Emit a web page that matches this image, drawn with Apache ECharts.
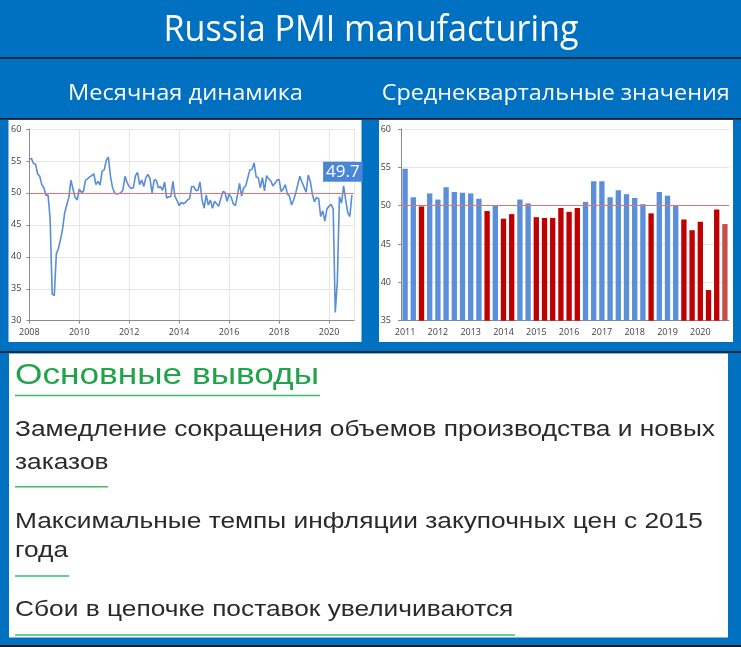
<!DOCTYPE html>
<html>
<head>
<meta charset="utf-8">
<script src="https://cdn.jsdelivr.net/npm/echarts@6/dist/echarts.min.js"></script>
<style>
html,body{margin:0;padding:0;background:#0070C0;}
#chart{width:741px;height:647px;}
</style>
</head>
<body>
<div id="chart"></div>
<script>
// ---------- texts ----------
const pageTitle = 'Russia PMI manufacturing';
const leftTitle = 'Месячная динамика';
const rightTitle = 'Среднеквартальные значения';
const conclusionsTitle = 'Основные выводы';
const conclusionLines = [
  'Замедление сокращения объемов производства и новых',
  'заказов',
  'Максимальные темпы инфляции закупочных цен с 2015',
  'года',
  'Сбои в цепочке поставок увеличиваются'
];

// ---------- monthly PMI, Jan 2008 .. Dec 2020 ----------
const monthYears = [2008, 2009, 2010, 2011, 2012, 2013, 2014, 2015, 2016, 2017, 2018, 2019, 2020];
const monthlyPMI = [
  55.3, 55.4, 54.6, 54.5, 53.0, 52.6, 51.3, 50.8, 49.6, 49.7, 46.0, 34.2, // 2008
  33.9, 40.5, 41.3, 42.7, 44.4, 46.9, 48.1, 49.3, 52.0, 50.6, 49.3, 48.9, // 2009
  50.6, 50.1, 50.2, 52.0, 52.2, 52.5, 52.7, 53.0, 51.3, 51.8, 51.2, 53.4, // 2010
  53.6, 55.1, 55.6, 52.6, 50.8, 50.0, 49.8, 49.9, 50.0, 50.5, 52.6, 51.6, // 2011
  51.0, 50.7, 50.8, 52.7, 53.2, 51.3, 52.0, 51.0, 52.4, 52.9, 52.2, 50.0, // 2012
  52.0, 52.0, 50.8, 51.0, 50.4, 51.7, 49.2, 49.4, 49.4, 51.8, 49.4, 48.8, // 2013
  48.0, 48.5, 48.3, 48.5, 48.9, 49.1, 51.0, 51.0, 50.4, 50.4, 51.7, 48.9, // 2014
  47.6, 49.7, 48.1, 48.9, 47.6, 48.7, 48.3, 47.9, 49.1, 50.2, 50.1, 48.7, // 2015
  49.8, 49.3, 48.3, 48.0, 49.6, 51.5, 49.5, 50.8, 51.1, 52.4, 53.6, 53.7, // 2016
  54.7, 52.5, 52.4, 50.8, 52.4, 50.3, 52.7, 52.2, 51.9, 51.1, 51.5, 52.0, // 2017
  52.1, 50.2, 50.6, 51.3, 49.8, 49.5, 48.1, 48.9, 50.0, 51.3, 52.6, 51.7, // 2018
  50.9, 50.1, 52.8, 51.8, 49.8, 48.6, 49.3, 49.1, 46.3, 47.2, 45.6, 47.5, // 2019
  47.9, 48.2, 47.5, 31.3, 36.2, 49.4, 48.4, 51.1, 48.9, 46.9, 46.3, 49.7  // 2020
];
const lineXTickYears = [2008, 2010, 2012, 2014, 2016, 2018, 2020];
const lineYTicks = [30, 35, 40, 45, 50, 55, 60];

// ---------- quarterly averages, 2011 Q1 .. 2020 Q4 ----------
const quarterYears = [2011, 2012, 2013, 2014, 2015, 2016, 2017, 2018, 2019, 2020];
const quarterlyPMI = [
  54.8, 51.1, 49.9, 51.6,   // 2011
  50.8, 52.4, 51.8, 51.7,   // 2012
  51.6, 50.9, 49.3, 50.0,   // 2013
  48.3, 48.9, 50.8, 50.3,   // 2014
  48.5, 48.4, 48.4, 49.7,   // 2015
  49.2, 49.7, 50.5, 53.2,   // 2016
  53.2, 51.1, 52.0, 51.5,   // 2017
  51.0, 50.2, 49.0, 51.8,   // 2018
  51.3, 50.1, 48.2, 46.8,   // 2019
  47.9, 39.0, 49.5, 47.6    // 2020
];
const barYTicks = [35, 40, 45, 50, 55, 60];
const threshold = 50;

// ---------- build categories ----------
const monthCats = [];
monthYears.forEach(y => { for (let m = 1; m <= 12; m++) monthCats.push(y + '-' + (m < 10 ? '0' + m : m)); });
monthCats.push((monthYears[monthYears.length - 1] + 1) + '-01'); // axis end
const quarterCats = [];
quarterYears.forEach(y => { for (let q = 1; q <= 4; q++) quarterCats.push(y + ' Q' + q); });

const isYearTick = (idx, val) => val.slice(5) === '01' && lineXTickYears.indexOf(+val.slice(0, 4)) >= 0;
const isSplit = (idx, val) => isYearTick(idx, val) || idx === monthCats.length - 1;

// ---------- colours ----------
const BG = '#0070C0';
const LINE_BLUE = '#5A8DD8';
const BAR_BLUE = '#5B8FD9';
const BAR_RED = '#C00000';
const BAR_LAST = '#C0504D';
const REF_RED = '#E57373';
const GRID = '#E6E6E6';
const AXIS = '#8C8C8C';
const TICK_TXT = '#404040';
const GREEN_TXT = '#20A34A';
const GREEN_LINE = '#3DBB6E';
const DARK = '#101820';

// ---------- text fitting ----------
const mctx = document.createElement('canvas').getContext('2d');
function fit(text, font, width) { mctx.font = font; return width / mctx.measureText(text).width; }

const titleFont = '36px "Open Sans"';
const subFont = '22px "Open Sans"';
const headFont = '30px "Liberation Sans"';
const bodyFont = '22px "Liberation Sans"';
const bodyScale = fit(conclusionLines[0], bodyFont, 700);

function txt(text, x, y, font, fill, align, scale) {
  return {
    type: 'text', x: x, y: y, scaleX: scale, z: 10,
    style: { text: text, font: font, fill: fill, textAlign: align, align: align,
             textVerticalAlign: 'middle', verticalAlign: 'middle' }
  };
}
function hline(x1, x2, y, color, w) {
  return { type: 'line', z: 5, shape: { x1: x1, y1: y, x2: x2, y2: y }, style: { stroke: color, lineWidth: w } };
}
function rect(x, y, w, h, fill) {
  return { type: 'rect', z: -1, shape: { x: x, y: y, width: w, height: h }, style: { fill: fill } };
}

const graphics = [
  rect(8.5, 120, 353, 222, '#ffffff'),
  rect(379, 120, 354, 222, '#ffffff'),
  rect(9, 353.5, 719, 284, '#ffffff'),
  hline(0, 741, 58, DARK, 1.5),
  hline(0, 741, 118.8, DARK, 1.5),
  hline(0, 741, 352, DARK, 1.5),
  hline(0, 741, 646, DARK, 2),
  txt(pageTitle, 371, 31, titleFont, '#ffffff', 'center', fit(pageTitle, titleFont, 415)),
  txt(leftTitle, 185.5, 93.5, subFont, '#ffffff', 'center', fit(leftTitle, subFont, 235)),
  txt(rightTitle, 555.7, 93.5, subFont, '#ffffff', 'center', fit(rightTitle, subFont, 348)),
  txt(conclusionsTitle, 15, 375.5, headFont, GREEN_TXT, 'left', fit(conclusionsTitle, headFont, 304)),
  hline(15, 320, 395.5, GREEN_LINE, 1.5),
  txt(conclusionLines[0], 15, 430, bodyFont, '#2a2a2a', 'left', bodyScale),
  txt(conclusionLines[1], 15, 462.5, bodyFont, '#2a2a2a', 'left', bodyScale),
  hline(15, 108, 486.7, GREEN_LINE, 1.5),
  txt(conclusionLines[2], 15, 521.5, bodyFont, '#2a2a2a', 'left', bodyScale),
  txt(conclusionLines[3], 15, 551, bodyFont, '#2a2a2a', 'left', bodyScale),
  hline(15, 69, 576, GREEN_LINE, 1.5),
  txt(conclusionLines[4], 15, 610, bodyFont, '#2a2a2a', 'left', bodyScale),
  hline(15, 515, 635, GREEN_LINE, 1.5)
];

const axisLabelStyle = { color: TICK_TXT, fontSize: 9, fontFamily: 'Open Sans' };
const lastIdx = monthlyPMI.length - 1;

const refLine = () => ({
  silent: true, symbol: 'none', label: { show: false },
  lineStyle: { color: REF_RED, width: 1, type: 'solid' },
  data: [{ yAxis: threshold }]
});

const option = {
  backgroundColor: BG,
  animation: false,
  graphic: graphics,
  grid: [
    { left: 29.3, top: 129, width: 324.7, height: 191.7 },
    { left: 401, top: 129, width: 328, height: 191.7 }
  ],
  xAxis: [
    {
      type: 'category', gridIndex: 0, data: monthCats, boundaryGap: false,
      axisLine: { lineStyle: { color: AXIS } },
      axisTick: { show: true, interval: isYearTick, length: 3, lineStyle: { color: AXIS } },
      axisLabel: Object.assign({ interval: isYearTick, margin: 7, formatter: v => v.slice(0, 4) }, axisLabelStyle),
      splitLine: { show: true, interval: isSplit, lineStyle: { color: GRID } }
    },
    {
      type: 'category', gridIndex: 1, data: quarterCats,
      axisLine: { lineStyle: { color: AXIS } },
      axisTick: { show: false },
      axisLabel: Object.assign({ interval: 3, margin: 7, formatter: v => v.slice(0, 4) }, axisLabelStyle),
      splitLine: { show: false }
    }
  ],
  yAxis: [
    {
      type: 'value', gridIndex: 0, min: lineYTicks[0], max: lineYTicks[lineYTicks.length - 1],
      interval: lineYTicks[1] - lineYTicks[0],
      axisLine: { show: true, lineStyle: { color: AXIS } },
      axisTick: { show: true, length: 3, lineStyle: { color: AXIS } },
      axisLabel: Object.assign({ margin: 8 }, axisLabelStyle),
      splitLine: { lineStyle: { color: GRID } }
    },
    {
      type: 'value', gridIndex: 1, min: barYTicks[0], max: barYTicks[barYTicks.length - 1],
      interval: barYTicks[1] - barYTicks[0],
      axisLine: { show: true, lineStyle: { color: AXIS } },
      axisTick: { show: true, length: 3, lineStyle: { color: AXIS } },
      axisLabel: Object.assign({ margin: 10 }, axisLabelStyle),
      splitLine: { lineStyle: { color: GRID } }
    }
  ],
  series: [
    {
      type: 'line', xAxisIndex: 0, yAxisIndex: 0, data: monthlyPMI,
      symbol: 'none', showSymbol: false,
      lineStyle: { color: LINE_BLUE, width: 1.6 },
      itemStyle: { color: LINE_BLUE },
      markLine: refLine(),
      markPoint: {
        silent: true, symbol: 'rect', symbolSize: 0,
        data: [{ coord: [monthCats[lastIdx], monthlyPMI[lastIdx]], value: monthlyPMI[lastIdx] }],
        label: {
          show: true, position: 'top', distance: 13, offset: [-9, 0],
          formatter: '{c}', color: '#ffffff', fontSize: 17, fontFamily: 'Open Sans',
          backgroundColor: '#4A86D8', padding: [2, 3, 1, 3]
        }
      }
    },
    {
      type: 'bar', xAxisIndex: 1, yAxisIndex: 1, data: quarterlyPMI,
      barCategoryGap: '35%',
      itemStyle: {
        color: p => p.dataIndex === quarterlyPMI.length - 1 ? BAR_LAST : (p.value < threshold ? BAR_RED : BAR_BLUE)
      },
      markLine: refLine()
    }
  ]
};

const chart = echarts.init(document.getElementById('chart'));
chart.setOption(option);
</script>
</body>
</html>
